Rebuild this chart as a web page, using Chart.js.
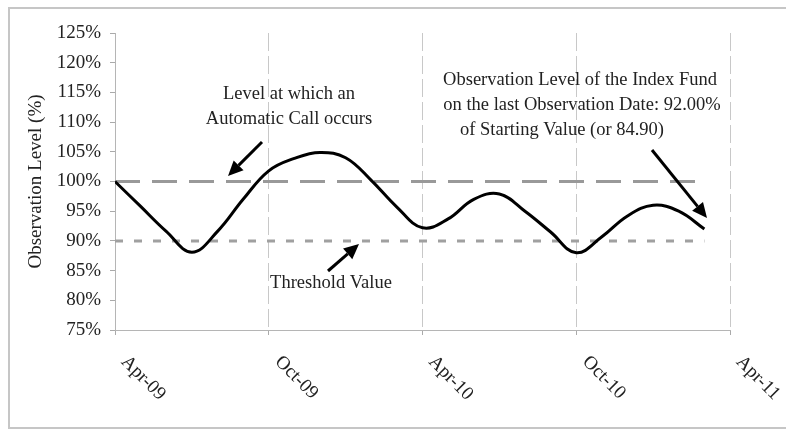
<!DOCTYPE html>
<html>
<head>
  <title>Observation Level</title>
  <script src="https://cdn.jsdelivr.net/npm/chart.js"></script>
  <style>
    body {
        margin: 0;
        background: #fff;
    }
    .frame {
        position: absolute;
        left: 8px;
        top: 7px;
        width: 820px;
        height: 418px;
        border: 2px solid #c6c6c6;
    }
    .wrap {
        position: absolute;
        left: 0;
        top: 0;
        width: 786px;
        height: 429px;
    }
  </style>
</head>
<body>
  <div class="frame"></div>
  <div class="wrap"><canvas id="levelChart"></canvas></div>

  <script>
    // months since Apr-09 and observation level (%)
    const months = [0, 1, 2, 3, 4, 5, 6, 7, 8, 9, 10, 11, 12, 13, 14, 15, 16, 17, 18, 19, 20, 21, 22, 23];
    const levels = [100, 95.8, 91.6, 88.1, 91.6, 97.0, 101.8, 103.9, 104.9, 104.0, 100.2, 95.7,
                    92.2, 93.7, 97.0, 97.9, 95.0, 91.5, 88.0, 90.7, 94.2, 96.0, 95.0, 92.0];

    // reference lines: call level and threshold
    const lineMonths = [0, 23];
    const callLevel = [100, 100];
    const thresholdLevel = [90, 90];

    // axis ticks
    const dateTicks = [0, 6, 12, 18, 24];
    const dateLabels = ['Apr-09', 'Oct-09', 'Apr-10', 'Oct-10', 'Apr-11'];
    const levelTicks = [75, 80, 85, 90, 95, 100, 105, 110, 115, 120, 125];

    const serif = 'Liberation Serif';
    const textColor = '#222';

    function points(xs, ys) {
        return xs.map((x, i) => ({ x: x, y: ys[i] }));
    }

    function arrow(ctx, x1, y1, x2, y2) {
        const a = Math.atan2(y2 - y1, x2 - x1);
        const len = 15, half = 7;
        const bx = x2 - len * Math.cos(a), by = y2 - len * Math.sin(a);
        ctx.beginPath();
        ctx.moveTo(x1, y1);
        ctx.lineTo(bx, by);
        ctx.stroke();
        ctx.beginPath();
        ctx.moveTo(x2, y2);
        ctx.lineTo(bx + half * Math.sin(a), by - half * Math.cos(a));
        ctx.lineTo(bx - half * Math.sin(a), by + half * Math.cos(a));
        ctx.closePath();
        ctx.fill();
    }

    // rotated date labels + notes and arrows
    const notesPlugin = {
        id: 'notes',
        afterDraw(chart) {
            const ctx = chart.ctx;
            const xs = chart.scales.x;
            ctx.save();
            ctx.fillStyle = textColor;
            ctx.font = '19px "' + serif + '"';
            ctx.textAlign = 'left';
            ctx.textBaseline = 'middle';
            dateTicks.forEach((v, i) => {
                const px = xs.getPixelForValue(v);
                ctx.save();
                ctx.translate(px + 9, 359);
                ctx.rotate(Math.PI / 4);
                ctx.fillText(dateLabels[i], 0, 0);
                ctx.restore();
            });

            ctx.font = '18.5px "' + serif + '"';
            ctx.textAlign = 'center';
            ctx.fillText('Level at which an', 289, 94);
            ctx.fillText('Automatic Call occurs', 289, 119);
            ctx.fillText('Threshold Value', 331, 283);
            ctx.fillText('Observation Level of the Index Fund', 580, 80);
            ctx.fillText('on the last Observation Date: 92.00%', 582, 105);
            ctx.fillText('of Starting Value (or 84.90)', 562, 130);

            ctx.strokeStyle = '#000';
            ctx.fillStyle = '#000';
            ctx.lineWidth = 3;
            arrow(ctx, 262, 142, 228, 176);
            arrow(ctx, 328, 271, 359, 244);
            arrow(ctx, 652, 150, 707, 218);
            ctx.restore();
        }
    };

    const ctx = document.getElementById('levelChart').getContext('2d');
    new Chart(ctx, {
        type: 'line',
        data: {
            datasets: [{
                data: points(months, levels),
                borderColor: '#000',
                borderWidth: 3,
                pointRadius: 0,
                tension: 0.4
            }, {
                data: points(lineMonths, callLevel),
                borderColor: '#999',
                borderWidth: 3,
                borderDash: [25, 12],
                pointRadius: 0
            }, {
                data: points(lineMonths, thresholdLevel),
                borderColor: '#a0a0a0',
                borderWidth: 3,
                borderDash: [8, 11],
                pointRadius: 0
            }]
        },
        options: {
            responsive: true,
            maintainAspectRatio: false,
            animation: false,
            layout: { padding: { left: 0, right: 56, top: 33, bottom: 0 } },
            plugins: {
                legend: { display: false },
                tooltip: { enabled: false }
            },
            scales: {
                x: {
                    type: 'linear',
                    min: 0,
                    max: 24,
                    afterBuildTicks: s => { s.ticks = dateTicks.map(v => ({ value: v })); },
                    afterFit: s => { s.height = 99; },
                    ticks: {
                        color: 'rgba(0,0,0,0)',
                        maxRotation: 0,
                        callback: (v) => dateLabels[dateTicks.indexOf(v)]
                    },
                    grid: {
                        color: '#c8c8c8',
                        tickColor: '#aaa',
                        tickLength: 5,
                        tickBorderDash: []
                    },
                    border: { color: '#b5b5b5', dash: [18, 5] }
                },
                y: {
                    min: 75,
                    max: 125,
                    afterBuildTicks: s => { s.ticks = levelTicks.map(v => ({ value: v })); },
                    afterFit: s => { s.width = 115; },
                    ticks: {
                        color: textColor,
                        padding: 9,
                        font: { family: serif, size: 19 },
                        callback: v => v + '%'
                    },
                    grid: {
                        drawOnChartArea: false,
                        tickColor: '#aaa',
                        tickLength: 5
                    },
                    border: { color: '#b5b5b5' },
                    title: {
                        display: true,
                        text: 'Observation Level (%)',
                        color: textColor,
                        font: { family: serif, size: 19 },
                        padding: { top: 25 }
                    }
                }
            }
        },
        plugins: [notesPlugin]
    });
  </script>
</body>
</html>
